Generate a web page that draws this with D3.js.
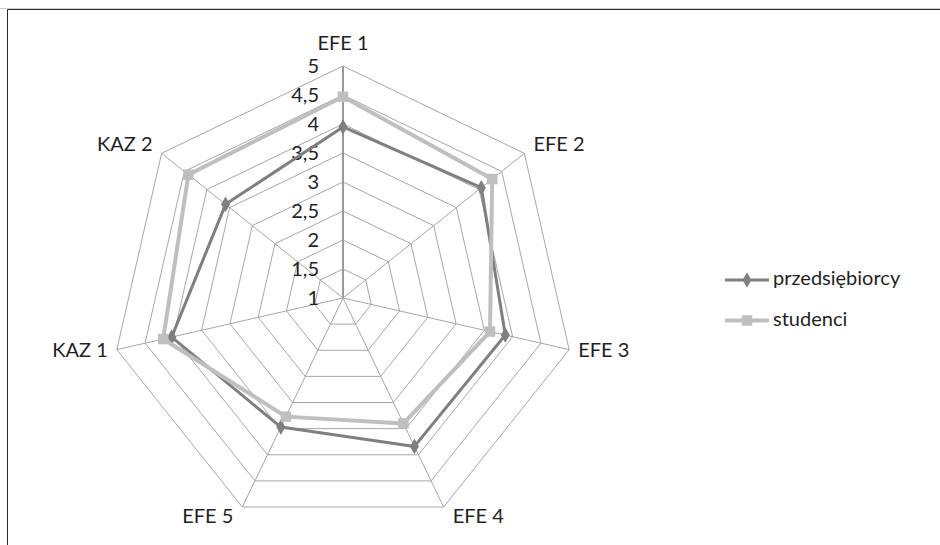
<!DOCTYPE html>
<html><head><meta charset="utf-8">
<script src="https://cdn.jsdelivr.net/npm/d3@7"></script>
<style>
html,body{margin:0;padding:0;background:#fff;}
svg{display:block;}
text{font-family:Lato,"Open Sans",sans-serif;fill:#1f1f1f;}
</style></head>
<body><svg id="chart" width="940" height="545"></svg>
<script>
const categories = ["EFE 1","EFE 2","EFE 3","EFE 4","EFE 5","KAZ 1","KAZ 2"];
const przedsiebiorcy = [3.95, 4.05, 3.87, 3.84, 3.47, 4.03, 3.59];
const studenci = [4.47, 4.29, 3.60, 3.40, 3.27, 4.18, 4.41];
const seriesNames = ["przedsiębiorcy","studenci"];
const tickValues = [1,1.5,2,2.5,3,3.5,4,4.5,5];
const tickLabels = ["1","1,5","2","2,5","3","3,5","4","4,5","5"];

const svg = d3.select("#chart");
const cx = 343, cy = 298, R = 232;
const fs = 20;

// frame
svg.append("line").attr("x1",0).attr("x2",940).attr("y1",8.5).attr("y2",8.5).attr("stroke","#d0d0d0");
svg.append("path").attr("d","M7.5,560 V9.5 H945").attr("fill","none").attr("stroke","#2a2a2a").attr("stroke-width",1);

const r = d3.scaleLinear().domain([1,5]).range([0,R]);
const ang = d3.scalePoint().domain(categories).range([0, 2*Math.PI*(categories.length-1)/categories.length]);
const pt = (c,v)=>[cx + r(v)*Math.sin(ang(c)), cy - r(v)*Math.cos(ang(c))];

const g = svg.append("g");
// rings
tickValues.slice(1).forEach(t=>{
  g.append("path")
   .attr("d", d3.line()(categories.map(c=>pt(c,t))) + "Z")
   .attr("fill","none").attr("stroke","#a6a6a6").attr("stroke-width",1);
});
// spokes
categories.forEach((c,i)=>{
  const p = pt(c,5);
  g.append("line").attr("x1",cx).attr("y1",cy).attr("x2",p[0]).attr("y2",p[1])
   .attr("stroke", i===0 ? "#9a9a9a" : "#a6a6a6").attr("stroke-width", i===0 ? 2 : 1);
});
// tick labels
tickValues.forEach((t,i)=>{
  g.append("text").attr("x",cx-24).attr("y",cy - r(t) + 2)
   .attr("text-anchor","end").attr("dominant-baseline","middle")
   .style("font-size",fs+"px").text(tickLabels[i]);
});
// category labels
categories.forEach(c=>{
  const a = ang(c), p = pt(c,5);
  const s = Math.sin(a), co = Math.cos(a);
  let anchor = Math.abs(s) < 0.01 ? "middle" : (s>0 ? "start" : "end");
  let x = p[0] + (anchor==="middle" ? 0 : (s>0 ? 9 : -9));
  let y = anchor==="middle" ? p[1]-21 : p[1] - co*12;
  g.append("text").attr("x",x).attr("y",y).attr("text-anchor",anchor)
   .attr("dominant-baseline","middle").style("font-size",fs+"px").text(c);
});

const series = [
  {name:seriesNames[0], values:przedsiebiorcy, color:"#7f7f7f", width:3, marker:d3.symbolDiamond, size:70},
  {name:seriesNames[1], values:studenci, color:"#bfbfbf", width:4, marker:d3.symbolSquare, size:110}
];
series.forEach(s=>{
  const pts = categories.map((c,i)=>pt(c,s.values[i]));
  g.append("path").attr("d", d3.line()(pts)+"Z").attr("fill","none")
   .attr("stroke",s.color).attr("stroke-width",s.width).attr("stroke-linejoin","round");
  g.selectAll(null).data(pts).enter().append("path")
   .attr("transform",d=>`translate(${d[0]},${d[1]})`)
   .attr("d", d3.symbol().type(s.marker).size(s.size)()).attr("fill",s.color);
});

// legend
series.forEach((s,i)=>{
  const y = 280 + i*40.5;
  const lg = svg.append("g");
  lg.append("line").attr("x1",725).attr("x2",769).attr("y1",y).attr("y2",y)
    .attr("stroke",s.color).attr("stroke-width",s.width);
  lg.append("path").attr("transform",`translate(747,${y})`)
    .attr("d", d3.symbol().type(s.marker).size(s.size)()).attr("fill",s.color);
  lg.append("text").attr("x",773).attr("y",y).attr("dominant-baseline","middle")
    .style("font-size",fs+"px").text(s.name);
});
</script></body></html>
